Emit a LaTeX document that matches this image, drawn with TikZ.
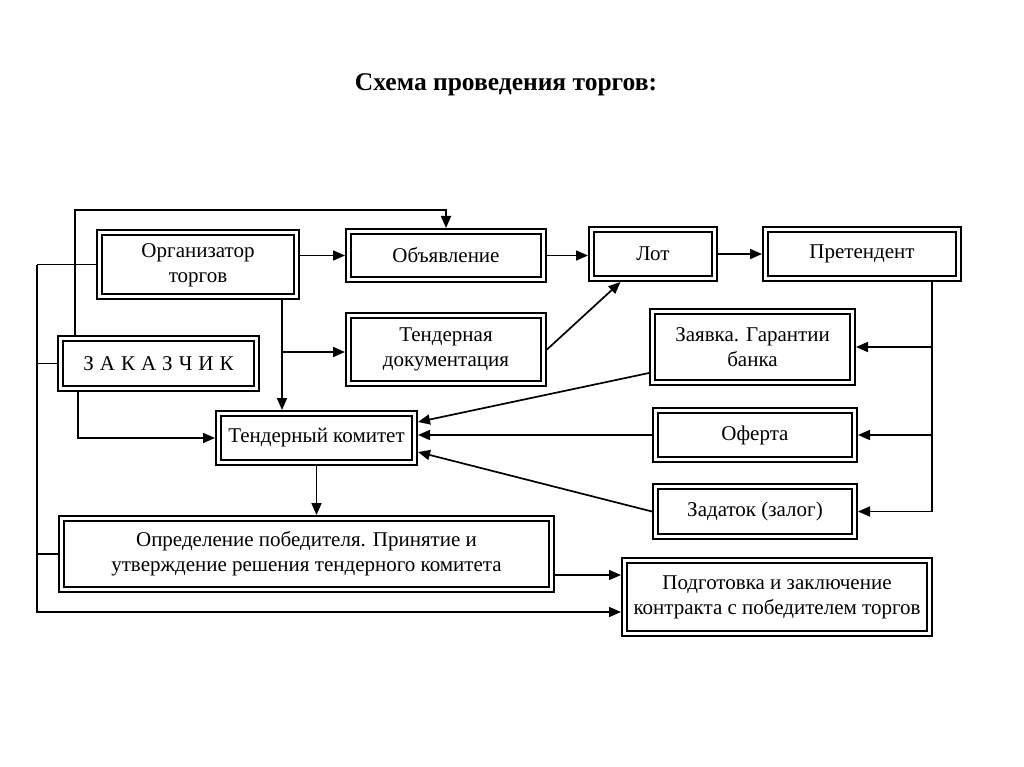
\documentclass[tikz,border=0pt]{standalone}
\usepackage{fontspec}
\setmainfont{Liberation Serif}
\usetikzlibrary{arrows.meta,calc}
\newcommand\zsp{\kern 6pt}
\begin{document}
\begin{tikzpicture}[x=1pt,y=-1pt,
  box/.style={draw, line width=2pt, double, double distance=3.4pt, outer sep=3.7pt,
    inner sep=0pt, align=center, font=\fontsize{21}{25}\selectfont},
  arr/.style={-{Triangle[length=12pt,width=10pt]}, line width=1.7pt},
  ln/.style={line width=1.7pt}]
\useasboundingbox (0,0) rectangle (1024,767);
\fill[white] (0,0) rectangle (1024,767);

\node[font=\fontsize{25.5}{30}\selectfont\bfseries, anchor=base] (title) at (506,91) {Схема проведения торгов:};

\node[box, minimum width=196.6pt, minimum height=63.6pt] (org) at (198,264.5) {\raisebox{-4pt}{\begin{tabular}{@{}c@{}}Организатор\\торгов\end{tabular}}};
\node[box, minimum width=195.6pt, minimum height=49.6pt] (zak) at (158.5,363.5) {З\zsp А\zsp К\zsp А\zsp З\zsp Ч\zsp И\zsp К};
\node[box, minimum width=194.6pt, minimum height=47.6pt] (obj) at (446,255.5) {Объявление};
\node[box, minimum width=194.6pt, minimum height=67.6pt] (tdoc) at (446,349.5) {Тендерная\\документация};
\node[box, minimum width=122.6pt, minimum height=48.6pt] (lot) at (653,254) {Лот};
\node[box, minimum width=192.6pt, minimum height=48.6pt] (pret) at (862,254) {Претендент};
\node[box, minimum width=199.6pt, minimum height=70.6pt] (zay) at (752.5,347) {Заявка. Гарантии\\банка};
\node[box, minimum width=195.6pt, minimum height=48.6pt] (tk) at (316.5,438) {Тендерный комитет};
\node[box, minimum width=198.6pt, minimum height=48.6pt] (of) at (755,435) {Оферта};
\node[box, minimum width=198.6pt, minimum height=49.6pt] (zad) at (755,511.5) {Задаток (залог)};
\node[box, minimum width=489.6pt, minimum height=70.6pt] (opr) at (306.5,554) {Определение победителя. Принятие и\\утверждение решения тендерного комитета};
\node[box, minimum width=304.6pt, minimum height=72.6pt] (pod) at (777,597) {Подготовка и заключение\\контракта с победителем торгов};

\coordinate (T) at (75,210);
\coordinate (V) at (282,352);
\coordinate (L) at (37,0);
\coordinate (Z) at (78,0);
\coordinate (R) at (932,0);
\coordinate (P1) at ($(pod.west)+(0,-22)$);
\coordinate (P2) at ($(pod.west)+(0,15)$);

\draw[arr] (zak.north -| T) -- (T) -| (obj.north);
\draw[arr] (org.east |- obj.west) -- (obj.west);
\draw[arr] (obj.east) -- (obj.east -| lot.west);
\draw[arr] (lot.east) -- (lot.east -| pret.west);
\draw[arr] (tdoc.east) -- ($(lot.south west)!0.25!(lot.south east)$);
\draw[arr] (org.south -| V) -- (tk.north -| V);
\draw[arr] (V) -- (V -| tdoc.west);

\draw[ln] (org.west) -- (org.west -| L);
\draw[ln] (zak.west) -- (zak.west -| L);
\draw[ln] (opr.west) -- (opr.west -| L);
\draw[arr] (org.west -| L) |- (P2);
\draw[arr] (opr.east |- P1) -- (P1);
\draw[arr] (zak.south -| Z) |- (tk.west);

\draw[ln] (pret.south -| R) -- (R |- zad.east);
\draw[arr] (R |- zay.east) -- (zay.east);
\draw[arr] (R |- of.east) -- (of.east);
\draw[arr] (R |- zad.east) -- (zad.east);

\draw[arr] ($(zay.south west)+(0,-13)$) -- ($(tk.east)+(0,-16)$);
\draw[arr] (of.west) -- (of.west -| tk.east);
\draw[arr] (zad.west) -- ($(tk.east)+(0,14)$);
\draw[arr] (tk.south) -- (tk.south |- opr.north);
\end{tikzpicture}
\end{document}
